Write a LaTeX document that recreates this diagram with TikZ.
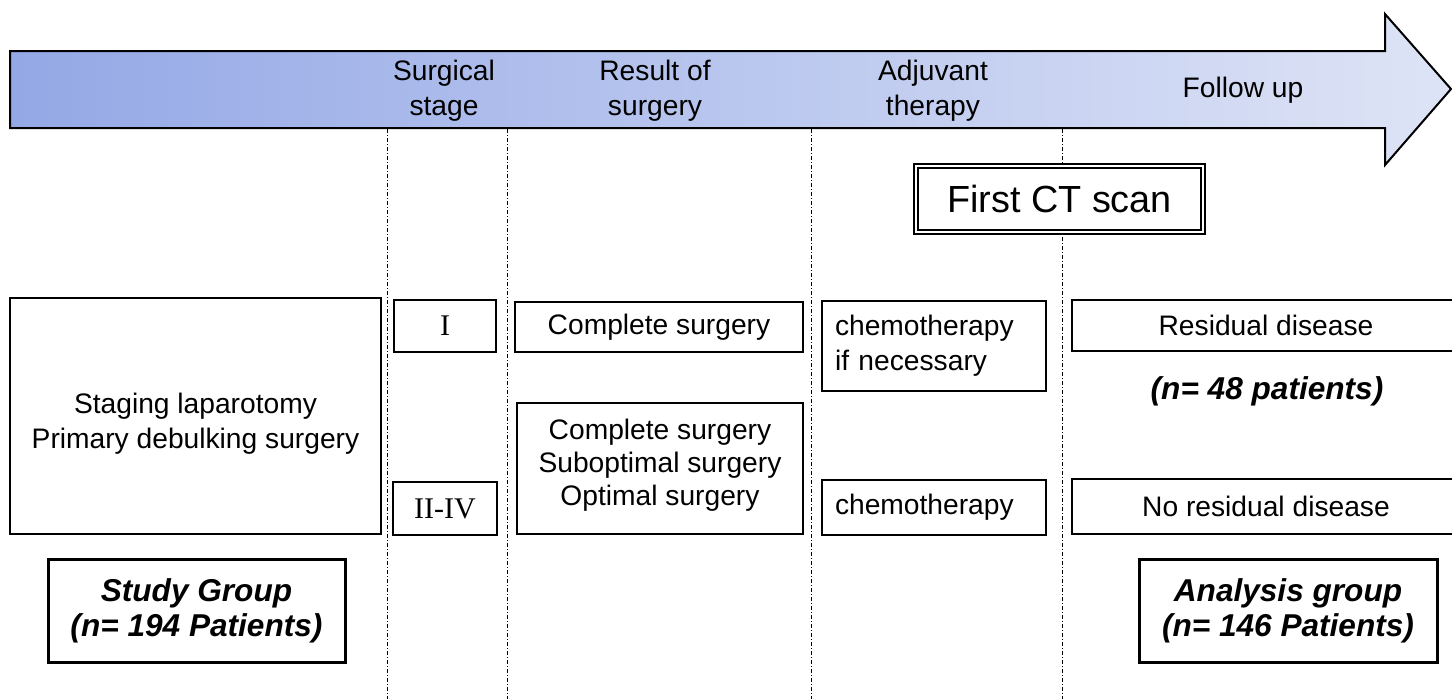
\documentclass[tikz,border=0pt]{standalone}
\usepackage{fontspec}
\setmainfont{Liberation Sans}
\newfontfamily\romanfont{Liberation Serif}
\definecolor{arrowleft}{RGB}{148,168,230}
\definecolor{arrowright}{RGB}{222,228,246}

\begin{document}
\begin{tikzpicture}[x=0.5pt,y=-0.5pt,
    box/.style={draw,line width=1pt,inner sep=0pt,align=center,
        font=\fontsize{14.1}{17.5}\selectfont},
    leftbox/.style={box,align=left,text width=99pt,inner xsep=6.5pt,minimum width=112pt},
    groupbox/.style={box,line width=1.5pt,minimum height=51.5pt,
        font=\fontsize{15.8}{17.5}\selectfont\bfseries\itshape},
    head/.style={align=center,font=\fontsize{14.1}{17.5}\selectfont},
    sep/.style={line width=0.5pt,dash pattern=on 2pt off 1pt on 0.5pt off 1pt}]
    \useasboundingbox (0,0) rectangle (1452,698);
    \draw [line width=1pt,left color=arrowleft,right color=arrowright]
        (10,51) -- (1385,51) -- (1385,14) -- (1451,89) -- (1385,165)
        -- (1385,128) -- (10,128) -- cycle;
    \foreach \x in {387,507,811,1062}{
        \draw [sep] (\x,129) -- (\x,700);
    }
    \node [head] (hstage)  at (444,91)  {Surgical\\stage};
    \node [head] (hresult) at (655,91)  {Result of\\surgery};
    \node [head] (hadjuv)  at (933,91)  {Adjuvant\\therapy};
    \node [head] (hfollow) at (1243,90) {Follow up};

    \node [box,double,double distance=1pt,fill=white,minimum width=143.5pt,minimum height=33pt,
        font=\fontsize{18.9}{22}\selectfont] (ct) at (1059.5,199) {First CT scan};

    \node [box,minimum width=185.5pt,text height=75pt,text depth=43pt] (staging) at (195.5,416)
        {Staging laparotomy\\Primary debulking surgery};
    \node [box,minimum width=51pt,minimum height=26pt,font=\romanfont\fontsize{15}{18}\selectfont]
        (stone) at (445,326) {I};
    \node [box,minimum width=52pt,minimum height=26.5pt,font=\romanfont\fontsize{15}{18}\selectfont]
        (stfour) at (445,508.5) {II-IV};
    \node [box,minimum width=144pt,minimum height=25pt] (complete) at (659,327) {Complete surgery};
    \node [box,minimum width=143pt,text height=51pt,text depth=14.5pt,
        font=\fontsize{14.1}{16.5}\selectfont] (results) at (660,468.5)
        {Complete surgery\\Suboptimal surgery\\Optimal surgery};
    \node [leftbox,minimum height=45pt] (chemoif) at (934,346) {chemotherapy\\if necessary};
    \node [leftbox,minimum height=27.5pt] (chemo) at (934,507.5) {chemotherapy};
    \node [box,minimum width=194pt,minimum height=25.5pt] (resid) at (1266,325.5) {Residual disease};
    \node [head,font=\fontsize{15.8}{17.5}\selectfont\bfseries\itshape] (nresid) at (1267,391)
        {(n= 48 patients)};
    \node [box,minimum width=194pt,minimum height=27.5pt] (noresid) at (1266,506.5) {No residual disease};

    \node [groupbox,minimum width=148.5pt] (study) at (196.5,611) {Study Group\\(n= 194 Patients)};
    \node [groupbox,minimum width=149pt] (analysis) at (1288,611) {Analysis group\\(n= 146 Patients)};
\end{tikzpicture}
\end{document}
